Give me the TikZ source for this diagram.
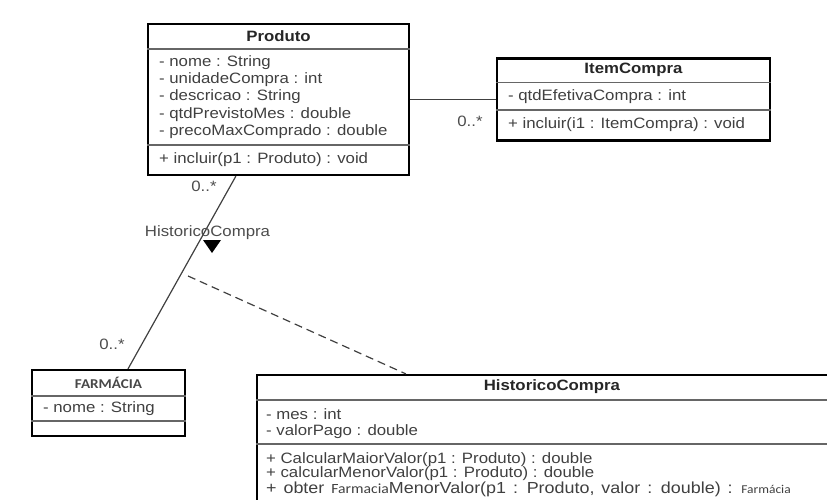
\documentclass[tikz,border=0pt]{standalone}
\usepackage{fontspec}
\setmainfont{Liberation Sans}[FakeStretch=1.12]
\newfontfamily\farmfont{Carlito}[FakeStretch=1.12]
\usetikzlibrary{positioning}

\begin{document}
\begin{tikzpicture}[x=1pt, y=-1pt,
        umlbox/.style={draw, line width=2.2pt, inner sep=0pt},
        divider/.style={draw=black!60, line width=1.3pt},
        classname/.style={font=\fontsize{15}{17}\selectfont\bfseries, text=black!85, inner sep=0pt},
        members/.style={font=\fontsize{15}{17.3}\selectfont, text=black!75, align=left, anchor=west, inner sep=0pt},
        assoc/.style={draw=black!75, line width=1.2pt},
        mult/.style={font=\fontsize{15}{17}\selectfont, text=black!70, inner sep=0pt},
    ]
        \useasboundingbox (0,0) rectangle (827,500);
        \clip (0,0) rectangle (827,500);

        % Produto
        \node[umlbox, minimum width=261pt, minimum height=151pt] (produto) at (278.5, 99.5) {};
        \draw[divider] ([yshift=-26pt]produto.north west) -- ([yshift=-26pt]produto.north east);
        \draw[divider] ([yshift=-122pt]produto.north west) -- ([yshift=-122pt]produto.north east);
        \node[classname] (produto_name) at ([yshift=-13pt]produto.north) {Produto};
        \node[members] (produto_attr) at ([xshift=12pt, yshift=-74pt]produto.north west) {- nome : String\\- unidadeCompra : int\\- descricao : String\\- qtdPrevistoMes : double\\- precoMaxComprado : double};
        \node[members] (produto_ops) at ([xshift=12pt, yshift=-136.5pt]produto.north west) {+ incluir(p1 : Produto) : void};

        % ItemCompra
        \node[umlbox, minimum width=273pt, minimum height=82pt] (itemcompra) at (633.5, 99.5) {};
        \draw[divider] ([yshift=-25pt]itemcompra.north west) -- ([yshift=-25pt]itemcompra.north east);
        \draw[divider] ([yshift=-52.5pt]itemcompra.north west) -- ([yshift=-52.5pt]itemcompra.north east);
        \node[classname] (itemcompra_name) at ([yshift=-12.5pt]itemcompra.north) {ItemCompra};
        \node[members] (itemcompra_attr) at ([xshift=12pt, yshift=-38.75pt]itemcompra.north west) {- qtdEfetivaCompra : int};
        \node[members] (itemcompra_ops) at ([xshift=12pt, yshift=-67.25pt]itemcompra.north west) {+ incluir(i1 : ItemCompra) : void};

        % FARMACIA
        \node[umlbox, minimum width=153pt, minimum height=66pt] (farmacia) at (108.5, 403) {};
        \draw[divider] ([yshift=-27pt]farmacia.north west) -- ([yshift=-27pt]farmacia.north east);
        \draw[divider] ([yshift=-52pt]farmacia.north west) -- ([yshift=-52pt]farmacia.north east);
        \node[classname, font=\farmfont\fontsize{13.5}{15}\selectfont\bfseries, text=black!72] (farmacia_name) at ([yshift=-13.5pt]farmacia.north) {FARMÁCIA};
        \node[members] (farmacia_attr) at ([xshift=12pt, yshift=-39.5pt]farmacia.north west) {- nome : String};

        % HistoricoCompra (classe de associacao)
        \node[umlbox, minimum width=623pt, minimum height=165pt] (hist) at (568.5, 457.5) {};
        \draw[divider] ([yshift=-26pt]hist.north west) -- ([yshift=-26pt]hist.north east);
        \draw[divider] ([yshift=-70pt]hist.north west) -- ([yshift=-70pt]hist.north east);
        \node[classname] (hist_name) at ([xshift=296pt, yshift=-13pt]hist.north west) {HistoricoCompra};
        \node[members, font=\fontsize{15}{16}\selectfont] (hist_attr) at ([xshift=10pt, yshift=-50pt]hist.north west) {- mes : int\\- valorPago : double};
        \node[members, font=\fontsize{15}{14.5}\selectfont] (hist_ops) at ([xshift=10pt, yshift=-100.5pt]hist.north west) {+ CalcularMaiorValor(p1 : Produto) : double\\+ calcularMenorValor(p1 : Produto) : double\\{\fontsize{16}{14.5}\selectfont\spaceskip=7pt\relax + obter {\farmfont\fontsize{14}{14.5}\selectfont Farmacia}MenorValor(p1 : Produto, valor : double) : {\farmfont\fontsize{12}{14.5}\selectfont Farmácia}}};

        % associacoes
        \draw[assoc] (produto.east) -- (itemcompra.west);
        \node[mult] (mult_item) at (470, 121) {0..*};
        \draw[assoc] ([xshift=89pt]produto.south west) -- ([xshift=19.5pt]farmacia.north);
        \node[mult] (mult_prod) at (204, 186) {0..*};
        \node[mult] (mult_farm) at (112, 344) {0..*};
        \node[mult] (assoc_name) at (207.5, 233) {HistoricoCompra};
        \fill[black] (203, 240) -- (221, 240) -- (212, 253) -- cycle;
        \coordinate (assoc_mid) at (188, 276);
        \draw[assoc, dash pattern=on 8pt off 5pt] (assoc_mid) -- ([xshift=150pt]hist.north west);
    \end{tikzpicture}
\end{document}
